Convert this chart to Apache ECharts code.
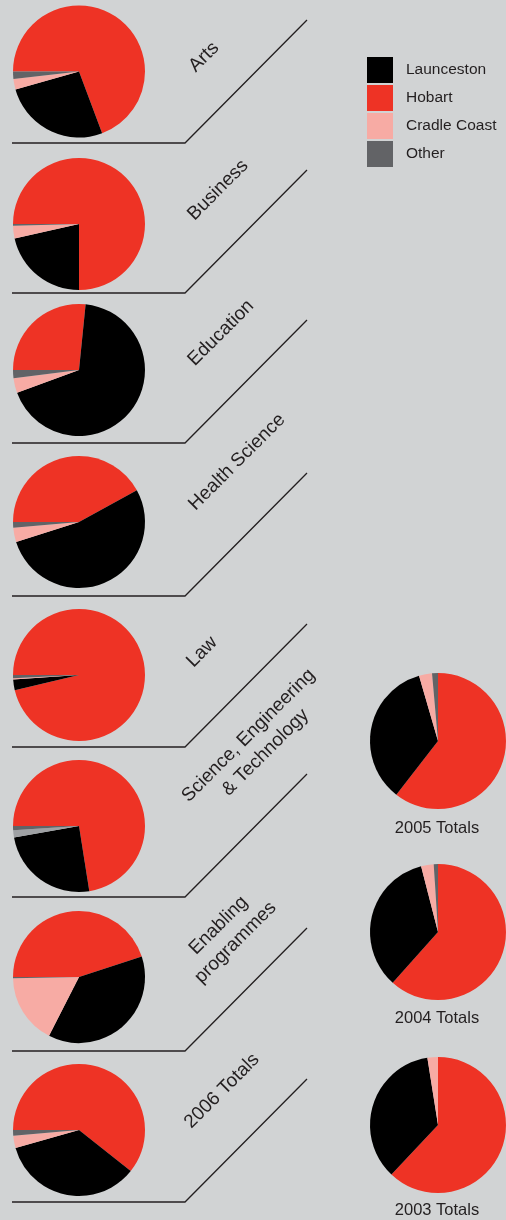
<!DOCTYPE html>
<html>
<head>
<meta charset="utf-8">
<title>Enrolments by campus</title>
<script src="https://cdn.jsdelivr.net/npm/echarts@6/dist/echarts.min.js"></script>
<style>
  html, body { margin: 0; padding: 0; background: #d1d3d4; }
  #chart { width: 506px; height: 1220px; }
</style>
</head>
<body>
<div id="chart"></div>
<script>
// Campus shares (%) by faculty, plus 2006 totals
const faculties = ['Arts', 'Business', 'Education', 'Health Science', 'Law',
  'Science, Engineering\n& Technology', 'Enabling\nprogrammes', '2006 Totals'];
const launceston  = [26.3, 21.5, 67.8, 53.1, 2.6, 24.7, 37.5, 34.9];
const hobart      = [69.3, 75.0, 26.6, 42.0, 96.3, 72.5, 45.0, 60.6];
const cradleCoast = [2.6, 3.1, 3.6, 3.5, 0.3, 1.8, 17.2, 3.0];
const other       = [1.8, 0.4, 2.0, 1.4, 0.8, 1.0, 0.3, 1.4];

// Earlier yearly totals (%)
const years = ['2005 Totals', '2004 Totals', '2003 Totals'];
const yearLaunceston  = [35.0, 34.4, 35.5];
const yearHobart      = [60.5, 61.6, 62.0];
const yearCradleCoast = [3.1, 3.0, 2.5];
const yearOther       = [1.4, 1.0, 0];

const campuses = ['Launceston', 'Hobart', 'Cradle Coast', 'Other'];

// Styling / layout
const COLORS = { 'Launceston': '#000000', 'Hobart': '#ee3325', 'Cradle Coast': '#f7aba4', 'Other': '#626366' };
const SCIENCE_CRADLE_COLOR = '#9fa1a4';
const TEXT = '#231f20';
const FONT = '"Liberation Sans", Arial, sans-serif';

const leftX = 79, leftR = 66;
const leftY = [71.5, 224, 370, 522, 675, 826, 977, 1130];
const baselines = [143, 293, 443, 596, 747, 897, 1051, 1202];
const labelPos = [[204, 57], [218, 190], [221, 333], [237, 462], [202, 652], [257, 744], [227, 934], [222, 1091]];

const rightX = 438, rightR = 68;
const rightY = [741, 932, 1125];
const yearLabelY = [828, 1018, 1210];

function slices(vals, overrides) {
  // draw order clockwise: Hobart, Launceston, Cradle Coast, Other
  const order = [1, 0, 2, 3];
  return order.map(k => ({
    name: campuses[k],
    value: vals[k],
    itemStyle: { color: (overrides && overrides[campuses[k]]) || COLORS[campuses[k]] }
  }));
}

function pie(center, r, startAngle, data) {
  return {
    type: 'pie', center: center, radius: r, startAngle: startAngle, clockwise: true,
    silent: true, animation: false, label: { show: false }, labelLine: { show: false },
    emphasis: { disabled: true }, itemStyle: { borderWidth: 0 }, data: data
  };
}

const series = [];
const graphics = [];

faculties.forEach((name, i) => {
  const ov = name.startsWith('Science') ? { 'Cradle Coast': SCIENCE_CRADLE_COLOR } : null;
  series.push(pie([leftX, leftY[i]], leftR, 180,
    slices([launceston[i], hobart[i], cradleCoast[i], other[i]], ov)));

  const b = baselines[i];
  graphics.push({
    type: 'polyline', silent: true,
    shape: { points: [[12, b], [185, b], [307, b - 123]] },
    style: { stroke: TEXT, lineWidth: 1.3, fill: null }
  });
  graphics.push({
    type: 'text', silent: true,
    x: labelPos[i][0], y: labelPos[i][1], rotation: Math.PI / 4,
    style: {
      text: name, fill: TEXT, font: '19px ' + FONT, lineHeight: 24,
      textAlign: 'center', textVerticalAlign: 'middle', align: 'center', verticalAlign: 'middle'
    }
  });
});

years.forEach((name, i) => {
  series.push(pie([rightX, rightY[i]], rightR, 90,
    slices([yearLaunceston[i], yearHobart[i], yearCradleCoast[i], yearOther[i]])));
  graphics.push({
    type: 'text', silent: true, x: 437, y: yearLabelY[i],
    style: {
      text: name, fill: TEXT, font: '16.5px ' + FONT,
      textAlign: 'center', textVerticalAlign: 'middle', align: 'center', verticalAlign: 'middle'
    }
  });
});

const chart = echarts.init(document.getElementById('chart'), null, { renderer: 'canvas' });
chart.setOption({
  backgroundColor: '#d1d3d4',
  animation: false,
  legend: {
    data: campuses,
    orient: 'vertical',
    left: 367, top: 57,
    itemWidth: 26, itemHeight: 26, itemGap: 2,
    icon: 'rect', selectedMode: false,
    padding: 0,
    textStyle: { color: TEXT, fontSize: 15.5, fontFamily: FONT, padding: [0, 0, 0, 8] }
  },
  graphic: { elements: graphics },
  series: series
});
</script>
</body>
</html>
